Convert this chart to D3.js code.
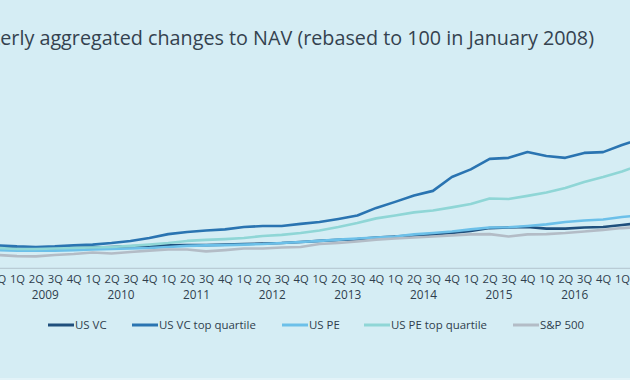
<!DOCTYPE html>
<html><head><meta charset="utf-8">
<script src="https://cdn.jsdelivr.net/npm/d3@7"></script>
<style>html,body{margin:0;padding:0;background:#d5edf4;overflow:hidden}</style>
</head><body>
<svg id="chart" width="630" height="380"></svg>
<script>
// ---------- data ----------
const periods = ["4Q 2008",
  "1Q 2009","2Q 2009","3Q 2009","4Q 2009",
  "1Q 2010","2Q 2010","3Q 2010","4Q 2010",
  "1Q 2011","2Q 2011","3Q 2011","4Q 2011",
  "1Q 2012","2Q 2012","3Q 2012","4Q 2012",
  "1Q 2013","2Q 2013","3Q 2013","4Q 2013",
  "1Q 2014","2Q 2014","3Q 2014","4Q 2014",
  "1Q 2015","2Q 2015","3Q 2015","4Q 2015",
  "1Q 2016","2Q 2016","3Q 2016","4Q 2016",
  "1Q 2017","2Q 2017"];
const years = ["2008","2009","2010","2011","2012","2013","2014","2015","2016","2017"];
const seriesNames = ["US VC","US VC top quartile","US PE","US PE top quartile","S&P 500"];
const usVC    = [86, 82, 80, 82, 84, 86, 88, 90, 92, 94, 95, 95, 97, 99, 101, 103, 107, 111, 115, 118, 124, 128, 132, 136, 141, 149, 160, 162, 164, 158, 158, 162, 164, 172, 179];
const usVCTop = [94, 90, 88, 90, 94, 97, 103, 111, 122, 137, 145, 151, 155, 164, 168, 168, 176, 183, 195, 208, 237, 260, 284, 302, 355, 384, 424, 428, 450, 435, 428, 447, 450, 477, 500];
const usPE    = [76, 74, 74, 74, 76, 78, 80, 82, 84, 88, 92, 94, 95, 97, 99, 103, 107, 111, 116, 120, 124, 128, 136, 141, 147, 155, 162, 163, 168, 174, 183, 189, 193, 202, 210];
const usPETop = [84, 80, 80, 82, 84, 86, 88, 92, 97, 103, 111, 115, 118, 122, 130, 134, 141, 151, 164, 179, 197, 208, 220, 227, 239, 252, 273, 271, 283, 296, 313, 336, 355, 376, 401];
const sp500   = [57, 53, 52, 57, 61, 67, 63, 69, 74, 78, 78, 71, 76, 82, 82, 86, 88, 99, 103, 109, 116, 120, 124, 128, 132, 136, 137, 128, 136, 137, 141, 147, 153, 160, 164];
const titleText = "Quarterly aggregated changes to NAV (rebased to 100 in January 2008)";
const visibleTitlePart = "erly aggregated changes to NAV (rebased to 100 in January 2008)";

// ---------- styles / layout ----------
const W = 630, H = 380;
const FONT = "'Open Sans', 'DejaVu Sans', sans-serif";
const TEXT = "#2f3e4d";
const colors = ["#1f4f7c", "#2a74b1", "#6cc0e9", "#8fd6d6", "#b3bcc6"];
const seriesValues = [usVC, usVCTop, usPE, usPETop, sp500];
const legendX = [48, 132, 282, 364, 513];

const svg = d3.select("#chart");
svg.append("rect").attr("width", W).attr("height", H).attr("fill", "#d5edf4");
svg.append("rect").attr("y", 378).attr("width", W).attr("height", 2).attr("fill", "#e3f3f8");

const x = d3.scalePoint().domain(periods).range([-1.9, 640.9]);
const y = d3.scaleLinear().domain([0, 500]).range([270, 139]);
const axisY = 268.3;

// helper to fit font size to a target width
function fitSize(text, base, target, weight) {
  const t = svg.append("text").attr("font-family", FONT).attr("font-size", base)
    .attr("font-weight", weight || 400).text(text);
  const w = t.node().getComputedTextLength();
  t.remove();
  return base * target / w;
}

// title
const titleSize = fitSize(visibleTitlePart, 18, 594);
svg.append("text").attr("x", 594).attr("y", 45).attr("text-anchor", "end")
  .attr("font-family", FONT).attr("font-size", titleSize).attr("fill", "#34424f")
  .text(titleText);

// axis
const tickSize = fitSize("2009", 12, 27);
const axis = d3.axisBottom(x).tickSize(0).tickPadding(6.5)
  .tickFormat(d => d.split(" ")[0]);
const gAxis = svg.append("g").attr("transform", `translate(0,${axisY})`).call(axis);
gAxis.select(".domain").attr("stroke", "#b9ccd5").attr("stroke-width", 1.2)
  .attr("d", `M-10,0H${W + 20}`);
gAxis.selectAll("text").attr("font-family", FONT).attr("font-size", tickSize * 0.95)
  .attr("fill", TEXT);

// year labels
years.forEach(yr => {
  const qs = periods.filter(p => p.endsWith(yr));
  const x1 = x("1Q " + yr) !== undefined ? x("1Q " + yr) : x(qs[0]) - 3 * x.step();
  const x4 = x("4Q " + yr) !== undefined ? x("4Q " + yr) : x1 + 3 * x.step();
  svg.append("text").attr("x", (x1 + x4) / 2).attr("y", 299).attr("text-anchor", "middle")
    .attr("font-family", FONT).attr("font-size", tickSize).attr("fill", TEXT).text(yr);
});

// lines
const line = d3.line().x((d, i) => x(periods[i])).y(d => y(d));
seriesValues.forEach((vals, k) => {
  svg.append("path").datum(vals).attr("d", line).attr("fill", "none")
    .attr("stroke", colors[k]).attr("stroke-width", 2.6)
    .attr("stroke-linejoin", "round").attr("stroke-linecap", "round");
});

// legend
const legSize = fitSize("US VC top quartile", 12, 97);
seriesNames.forEach((name, k) => {
  const g = svg.append("g").attr("transform", `translate(${legendX[k]},325)`);
  g.append("line").attr("x1", 0).attr("x2", 26).attr("y1", 0).attr("y2", 0)
    .attr("stroke", colors[k]).attr("stroke-width", 3);
  g.append("text").attr("x", 27).attr("y", 4.3).attr("font-family", FONT)
    .attr("font-size", legSize).attr("fill", TEXT).text(name);
});
</script>
</body></html>
